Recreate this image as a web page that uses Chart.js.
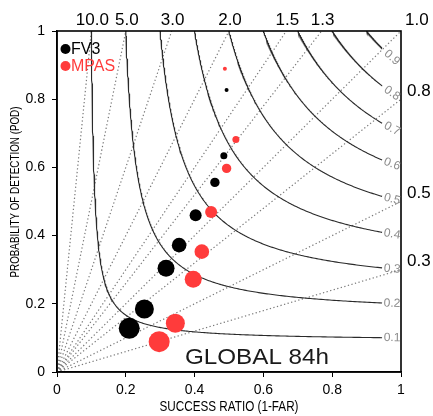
<!DOCTYPE html>
<html><head><meta charset="utf-8">
<script src="https://cdn.jsdelivr.net/npm/chart.js@4.4.1/dist/chart.umd.min.js"></script>
<style>html,body{margin:0;padding:0;background:#fff;}</style>
</head><body>
<canvas id="c" width="433" height="416"></canvas>
<script>
// ---- data ----
const seriesNames = ['FV3', 'MPAS'];
const fv3SR  = [0.210, 0.254, 0.317, 0.355, 0.403, 0.459, 0.485, 0.493];
const fv3POD = [0.128, 0.185, 0.304, 0.372, 0.460, 0.556, 0.634, 0.827];
const mpasSR  = [0.297, 0.344, 0.396, 0.421, 0.448, 0.493, 0.520, 0.488];
const mpasPOD = [0.089, 0.143, 0.272, 0.353, 0.469, 0.597, 0.682, 0.889];
const csiLevels = [0.1, 0.2, 0.3, 0.4, 0.5, 0.6, 0.7, 0.8, 0.9];
const biasLevels = [10, 5, 3, 2, 1.5, 1.3, 1.0, 0.8, 0.5, 0.3];
const axisTicks = [0, 0.2, 0.4, 0.6, 0.8, 1];
const panelLabel = 'GLOBAL 84h';
const xTitle = 'SUCCESS RATIO (1-FAR)';
const yTitle = 'PROBABILITY OF DETECTION (POD)';

// ---- styles ----
const pointRadii = [10.5, 9.5, 8.5, 7.3, 6, 4.7, 3.5, 2];
const seriesColors = ['#000000', '#ff3b3b'];
const csiEnd = 0.945;

function csiPod(c, sr) { return 1 / (1 / c + 1 - 1 / sr); }

const datasets = [];
const seriesSR = [fv3SR, mpasSR], seriesPOD = [fv3POD, mpasPOD];
seriesNames.forEach((n, k) => {
  datasets.push({
    label: n, order: 0,
    data: seriesSR[k].map((x, i) => ({x: x, y: seriesPOD[k][i]})),
    backgroundColor: seriesColors[k], borderColor: seriesColors[k],
    pointRadius: pointRadii, pointBorderWidth: 0, showLine: false
  });
});
biasLevels.forEach(b => {
  const end = b >= 1 ? {x: 1 / b, y: 1} : {x: 1, y: b};
  datasets.push({
    label: 'bias' + b, order: 2, data: [{x: 0, y: 0}, end], showLine: true,
    borderColor: '#7a7a7a', borderWidth: 1.2, borderDash: [1.3, 2.4], pointRadius: 0
  });
});
csiLevels.forEach(c => {
  const pts = [];
  const N = 300;
  for (let i = 0; i <= N; i++) {
    const t = i / N;
    const sr = c + (csiEnd - c) * t * t * t;
    pts.push({x: sr, y: Math.min(1, csiPod(c, sr))});
  }
  datasets.push({
    label: 'csi' + c, order: 1, data: pts, showLine: true,
    borderColor: '#2a2a2a', borderWidth: 1.1, pointRadius: 0, tension: 0
  });
});

function fitText(ctx, text, cx, cy, font, targetW, rot, color) {
  ctx.save();
  ctx.font = font; ctx.fillStyle = color;
  ctx.textAlign = 'center'; ctx.textBaseline = 'middle';
  ctx.translate(cx, cy); ctx.rotate(rot);
  const w = ctx.measureText(text).width;
  ctx.scale(targetW / w, 1);
  ctx.fillText(text, 0, 0);
  ctx.restore();
}

const deco = {
  id: 'deco',
  afterDraw(chart) {
    const ctx = chart.ctx, a = chart.chartArea;
    const xs = chart.scales.x, ys = chart.scales.y;
    ctx.save();
    ctx.strokeStyle = '#000'; ctx.lineWidth = 1.6;
    ctx.strokeRect(a.left, a.top, a.right - a.left, a.bottom - a.top);
    // bias labels
    ctx.fillStyle = '#000'; ctx.font = '17px "Liberation Sans", Arial, sans-serif';
    ctx.textBaseline = 'middle';
    biasLevels.forEach(b => {
      const t = b.toFixed(1);
      if (b > 1) { ctx.textAlign = 'center'; ctx.fillText(t, xs.getPixelForValue(1 / b) + 1, 20); }
      else if (b === 1) { ctx.textAlign = 'left'; ctx.fillText(t, a.right + 4, 20); }
      else { ctx.textAlign = 'left'; ctx.fillText(t, a.right + 6, ys.getPixelForValue(b) - 8); }
    });
    // csi labels
    ctx.font = '12px "Liberation Sans", Arial, sans-serif';
    ctx.fillStyle = '#8c8c8c'; ctx.textAlign = 'center';
    csiLevels.forEach(c => {
      const s0 = 0.955, s1 = 0.995, sm = 0.974;
      const x0 = xs.getPixelForValue(s0), y0 = ys.getPixelForValue(csiPod(c, s0));
      const x1 = xs.getPixelForValue(s1), y1 = ys.getPixelForValue(csiPod(c, s1));
      const ang = Math.atan2(y1 - y0, x1 - x0);
      ctx.save();
      ctx.translate(xs.getPixelForValue(sm), ys.getPixelForValue(csiPod(c, sm)));
      ctx.rotate(ang);
      ctx.fillText(String(c), 0, 0);
      ctx.restore();
    });
    // legend
    ctx.font = '16px "Liberation Sans", Arial, sans-serif';
    ctx.textAlign = 'left';
    seriesNames.forEach((n, k) => {
      const y = 49 + k * 17;
      ctx.fillStyle = seriesColors[k];
      ctx.beginPath(); ctx.arc(65.5, y, 5, 0, Math.PI * 2); ctx.fill();
      ctx.fillText(n, 71, y + 1);
    });
    ctx.restore();
    fitText(ctx, panelLabel, 257, 358, '22px "Liberation Sans", Arial, sans-serif', 144, 0, '#1a1a1a');
    fitText(ctx, xTitle, 229, 407, '14px "Liberation Sans", Arial, sans-serif', 139, 0, '#000');
    fitText(ctx, yTitle, 15.5, 192, '12px "Liberation Sans", Arial, sans-serif', 171, -Math.PI / 2, '#000');
  }
};

const tickFont = {family: '"Liberation Sans", Arial, sans-serif', size: 14};
function axis(extra, pad) {
  return Object.assign({
    type: 'linear', min: 0, max: 1,
    afterBuildTicks: s => { s.ticks = axisTicks.map(v => ({value: v})); },
    ticks: {font: tickFont, color: '#000', padding: pad,
      callback: v => String(Number(v.toFixed(1)))},
    grid: {drawOnChartArea: false, drawTicks: true, tickLength: 5, color: '#000', lineWidth: 1},
    border: {display: true, color: '#000', width: 1.5}
  }, extra);
}

new Chart(document.getElementById('c'), {
  type: 'scatter',
  data: {datasets: datasets},
  options: {
    responsive: false, animation: false, devicePixelRatio: 1,
    layout: {padding: {top: 31, right: 32, left: 0, bottom: 0}},
    plugins: {legend: {display: false}, tooltip: {enabled: false}},
    scales: {
      x: axis({afterFit: s => { s.height = 44; }}, 5),
      y: axis({afterFit: s => { s.width = 57; }}, 7)
    }
  },
  plugins: [deco]
});
</script>
</body></html>
